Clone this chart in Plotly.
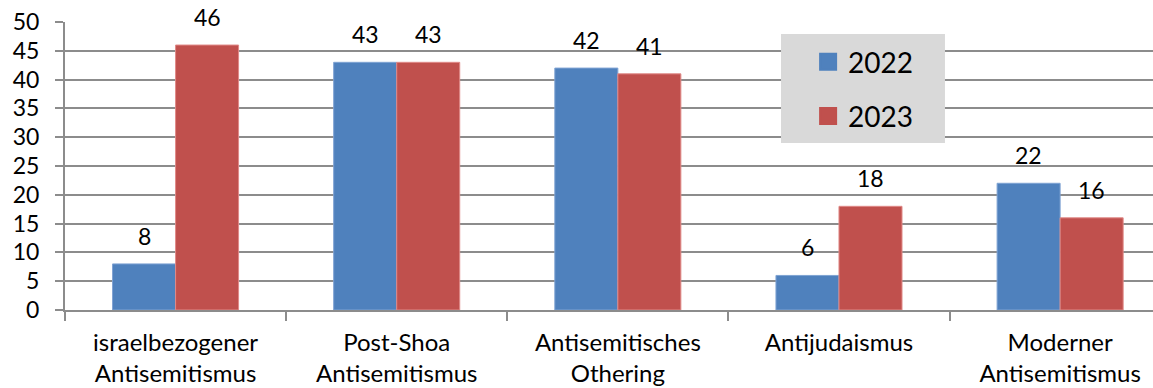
import plotly.graph_objects as go

# Kategorien und Werte
categories = [
    "israelbezogener<br>Antisemitismus",
    "Post-Shoa<br>Antisemitismus",
    "Antisemitisches<br>Othering",
    "Antijudaismus",
    "Moderner<br>Antisemitismus",
]
values_2022 = [8, 43, 42, 6, 22]
values_2023 = [46, 43, 41, 18, 16]
series_names = ["2022", "2023"]

BLUE = "#4F81BD"
RED = "#C0504D"
GRID = "#8C8C8C"
FONT = "Lato, 'Open Sans', sans-serif"

BARGAP = 0.43
half_bar = (1 - BARGAP) / 4  # Abstand Balkenmitte zur Kategoriemitte

fig = go.Figure()

series = [
    (series_names[0], values_2022, BLUE, "#7FA3D3", -half_bar),
    (series_names[1], values_2023, RED, "#E08A88", half_bar),
]

for i, (name, vals, color, edge, shift) in enumerate(series):
    fig.add_trace(go.Bar(
        x=categories,
        y=vals,
        name=name,
        legendgroup=f"g{i}",
        marker=dict(color=color, line=dict(color=edge, width=1)),
        showlegend=False,
    ))
    # Wertbeschriftungen über den Balken
    for k, v in enumerate(vals):
        fig.add_annotation(
            x=k + shift, y=v, xref="x", yref="y",
            text=str(v), showarrow=False,
            yanchor="bottom", yshift=12,
            font=dict(size=23, color="black", family=FONT),
        )

# Legendeneinträge mit größeren Quadraten
for i, (name, color) in enumerate([(series_names[0], BLUE), (series_names[1], RED)]):
    fig.add_trace(go.Scatter(
        x=[None], y=[None],
        mode="markers",
        name=name,
        legendgroup=f"g{i}",
        marker=dict(symbol="square", size=16, color=color,
                    line=dict(color=color, width=2)),
        showlegend=True,
    ))

# grauer Hintergrund der Legende
fig.add_shape(
    type="rect", xref="paper", yref="paper",
    x0=0.6581, x1=0.8088, y0=0.5799, y1=0.9583,
    fillcolor="#D9D9D9", line=dict(width=0), layer="above",
)

fig.update_layout(
    width=1153,
    height=388,
    margin=dict(l=65, r=0, t=22, b=78),
    paper_bgcolor="white",
    plot_bgcolor="white",
    barmode="group",
    bargap=BARGAP,
    bargroupgap=0,
    font=dict(family=FONT, size=22, color="black"),
    legend=dict(
        x=0.683, y=0.948, xanchor="left", yanchor="top",
        bgcolor="rgba(0,0,0,0)",
        font=dict(size=28, family=FONT, color="black"),
        tracegroupgap=15,
        itemsizing="trace",
        borderwidth=0,
    ),
    xaxis=dict(
        type="category",
        range=[-0.5, 4.42],
        showgrid=False,
        showline=True,
        linecolor=GRID,
        linewidth=2,
        ticks="outside",
        tickson="boundaries",
        ticklen=9,
        tickwidth=2,
        tickcolor=GRID,
        ticklabelstandoff=10,
        tickfont=dict(size=24, family=FONT, color="black"),
    ),
    yaxis=dict(
        range=[0, 50],
        dtick=5,
        tick0=0,
        showgrid=True,
        gridcolor=GRID,
        gridwidth=2,
        zeroline=False,
        showline=True,
        linecolor=GRID,
        linewidth=2,
        ticks="outside",
        ticklen=8,
        tickwidth=2,
        tickcolor=GRID,
        ticklabelstandoff=11,
        tickfont=dict(size=23, family=FONT, color="black"),
    ),
)

fig.write_html("out.html")
